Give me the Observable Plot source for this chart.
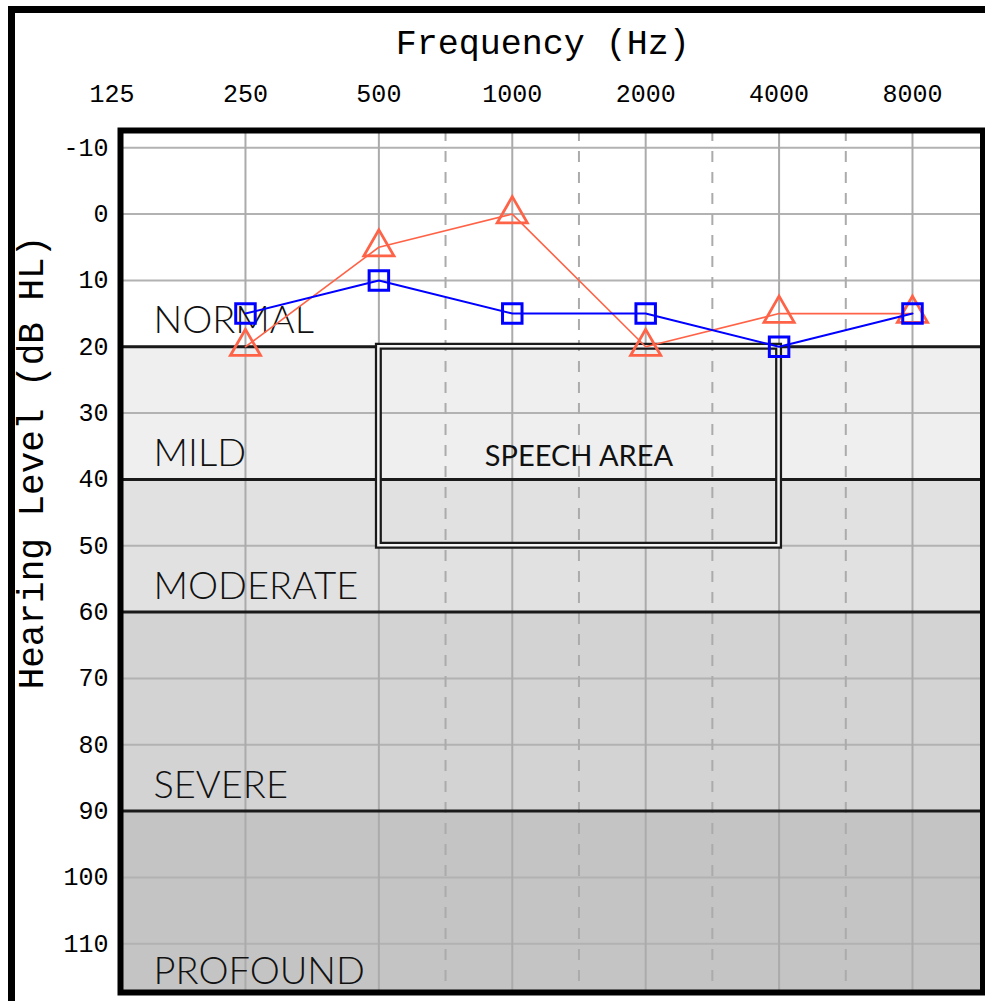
<!DOCTYPE html>
<html>
<head>
<meta charset="utf-8">
<script src="https://cdn.jsdelivr.net/npm/d3@7"></script>
<script src="https://cdn.jsdelivr.net/npm/@observablehq/plot@0.6"></script>
<style>
  body { margin: 0; background: #ffffff; }
  #chart svg { display: block; }
</style>
</head>
<body>
<div id="chart"></div>
<script>
// ---- data ----
const frequencies = [250, 500, 1000, 2000, 4000, 8000];
const blueSeries = [15, 10, 15, 15, 20, 15];   // squares
const redSeries  = [20, 5, 0, 20, 15, 15];     // triangles
const freqTickLabels = [125, 250, 500, 1000, 2000, 4000, 8000];
const halfOctaves = [707, 1414, 2828, 5657];   // dashed lines midway between octaves
const dbTicks = [-10, 0, 10, 20, 30, 40, 50, 60, 70, 80, 90, 100, 110];
const bandNames = ["NORMAL", "MILD", "MODERATE", "SEVERE", "PROFOUND"];
const bandFrom = [-20, 20, 40, 60, 90];
const bandTo = [20, 40, 60, 90, 130];
const bandColors = ["#ffffff", "#efefef", "#e1e1e1", "#d3d3d3", "#c4c4c4"];
const bandLabelDb = [18, 38, 58, 88, 116];
const bandEdges = [20, 40, 60, 90];
const speechFreq = [500, 4000];
const speechDb = [20, 50];
const speechLabel = ["SPEECH AREA"];
const speechLabelFreq = [1414];
const speechLabelDb = [38];

// ---- tables built from arrays ----
const blue = frequencies.map((f, i) => ({f, db: blueSeries[i]}));
const red = frequencies.map((f, i) => ({f, db: redSeries[i]}));
const bands = bandNames.map((name, i) => ({name, y1: bandFrom[i], y2: bandTo[i], fill: bandColors[i], labelDb: bandLabelDb[i]}));
const speech = [{x1: speechFreq[0], x2: speechFreq[1], y1: speechDb[0], y2: speechDb[1]}];
const speechText = speechLabel.map((t, i) => ({t, f: speechLabelFreq[i], db: speechLabelDb[i]}));

const mono = "'Liberation Mono', 'DejaVu Sans Mono', monospace";
const sans = "Lato, 'Open Sans', sans-serif";

const chart = Plot.plot({
  width: 985,
  height: 1001,
  marginLeft: 120,
  marginRight: 2.5,
  marginTop: 130,
  marginBottom: 9,
  style: {background: "#ffffff", fontFamily: mono, color: "#000", overflow: "visible"},
  x: {type: "log", base: 2, domain: [130.6, 11540], axis: null},
  y: {domain: [-12.6, 117.35], reverse: true, axis: null},
  color: {type: "identity"},
  marks: [
    // hearing loss bands
    Plot.rect(bands, {y1: "y1", y2: "y2", fill: "fill", clip: true}),
    // horizontal grid
    Plot.ruleY(dbTicks, {stroke: "#b2b2b2", strokeWidth: 2}),
    // octave grid (solid)
    Plot.ruleX(frequencies, {stroke: "#ababab", strokeWidth: 2}),
    // half-octave grid (dashed)
    Plot.ruleX(halfOctaves, {stroke: "#ababab", strokeWidth: 2, strokeDasharray: "11,10"}),
    // band boundaries
    Plot.ruleY(bandEdges, {stroke: "#1a1a1a", strokeWidth: 3}),
    // speech area (double outline)
    Plot.rect(speech, {x1: "x1", x2: "x2", y1: "y1", y2: "y2", fill: "none", stroke: "#1a1a1a", strokeWidth: 7}),
    Plot.rect(speech, {x1: "x1", x2: "x2", y1: "y1", y2: "y2", fill: "none", stroke: "#f6f6f6", strokeWidth: 2.5}),
    Plot.text(speechText, {x: "f", y: "db", text: "t", lineAnchor: "bottom", fontFamily: sans, fontSize: 29, letterSpacing: "-2.7px", fill: "#111"}),
    // band labels
    Plot.text(bands, {y: "labelDb", text: "name", frameAnchor: "left", dx: 33, textAnchor: "start", lineAnchor: "bottom", fontFamily: sans, fontSize: 38, fontWeight: 300, letterSpacing: "-5.3px", fill: "#111"}),
    // red series
    Plot.line(red, {x: "f", y: "db", stroke: "#ff6347", strokeWidth: 1.6}),
    Plot.dot(red, {x: "f", y: "db", symbol: "triangle", r: 11.2, stroke: "#ff6347", strokeWidth: 2.8, fill: "none"}),
    // blue series
    Plot.line(blue, {x: "f", y: "db", stroke: "#0000ff", strokeWidth: 2}),
    Plot.dot(blue, {x: "f", y: "db", symbol: "square", r: 11, stroke: "#0000ff", strokeWidth: 3, fill: "none"}),
    // frame
    Plot.frame({stroke: "#000", strokeWidth: 6}),
    // x tick labels (top)
    Plot.text(freqTickLabels, {x: d => d, text: d => String(d), frameAnchor: "top", lineAnchor: "middle", dy: -37, fontFamily: mono, fontSize: 25, fill: "#000"}),
    // y tick labels
    Plot.axisY({ticks: dbTicks, anchor: "left", tickSize: 0, tickPadding: 12, fontSize: 25, fontFamily: mono, label: null, tickFormat: d => String(d)}),
    // axis titles
    Plot.text(["Frequency (Hz)"], {frameAnchor: "top", text: d => d, textAnchor: "middle", lineAnchor: "middle", dx: -9, dy: -88, fontFamily: mono, fontSize: 35, fill: "#000"}),
    Plot.text(["Hearing Level (dB HL)"], {frameAnchor: "left", text: d => d, textAnchor: "middle", lineAnchor: "middle", rotate: -90, dx: -89, dy: -99, fontFamily: mono, fontSize: 36, fill: "#000"})
  ]
});

// outer border of the image
d3.select(chart).append("rect")
  .attr("x", 11.5).attr("y", 9.5)
  .attr("width", 1000).attr("height", 1010)
  .attr("fill", "none").attr("stroke", "#000").attr("stroke-width", 7);

document.getElementById("chart").appendChild(chart);
</script>
</body>
</html>
